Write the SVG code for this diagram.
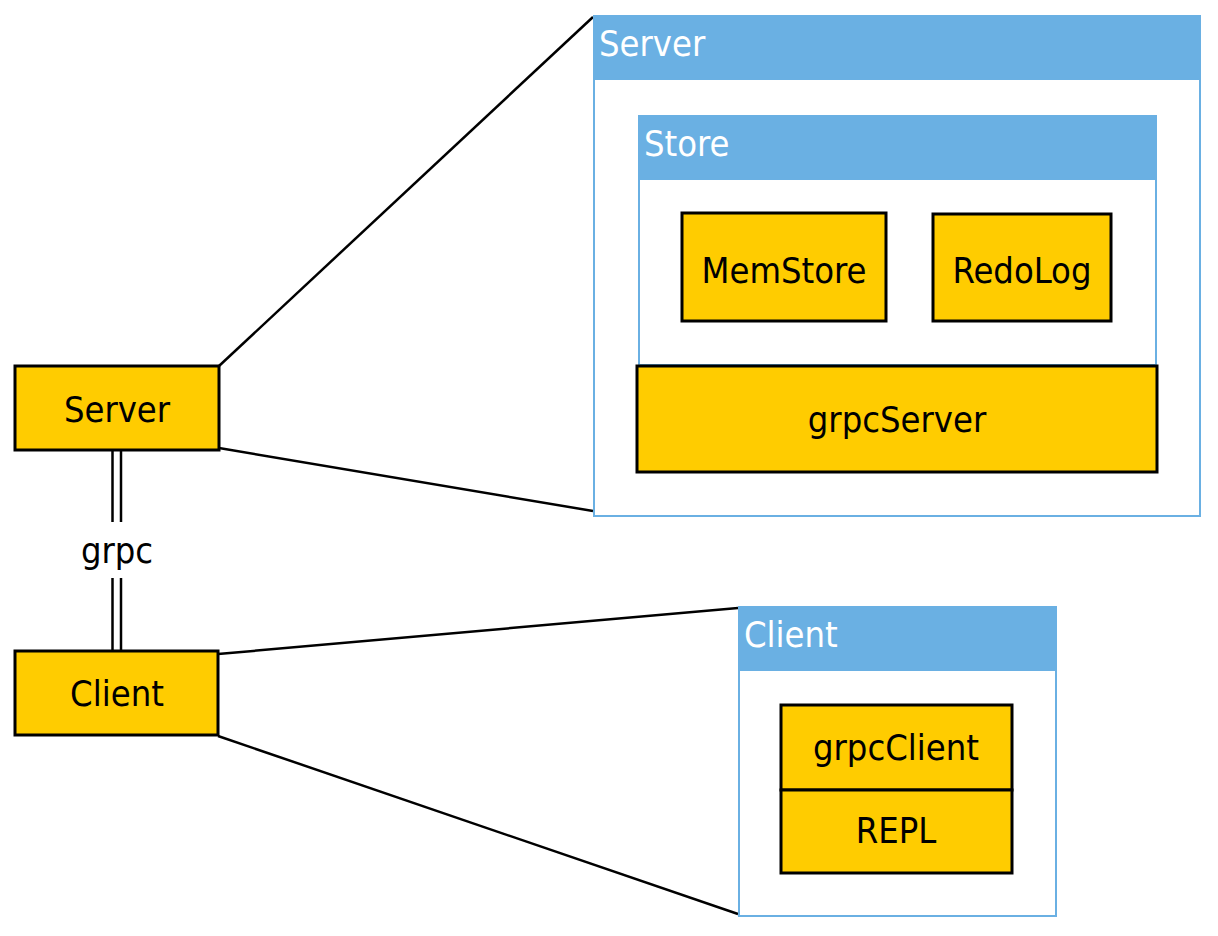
<svg xmlns="http://www.w3.org/2000/svg" width="1218" height="936" viewBox="0 0 1218 936">
<style>
.box{fill:#FFCC00;stroke:#000;stroke-width:3}
.cont{fill:#fff;stroke:#6AB0E3;stroke-width:2}
.hdr{fill:#6AB0E3}
.t{font-family:"DejaVu Sans Condensed","DejaVu Sans","Liberation Sans",sans-serif;font-size:36px;fill:#000;text-anchor:middle}
.h{font-family:"DejaVu Sans Condensed","DejaVu Sans","Liberation Sans",sans-serif;font-size:36px;fill:#fff}
.ln{stroke:#000;stroke-width:2.5;fill:none}
.dl{stroke:#000;stroke-width:2.5;fill:none}
</style>
<rect width="1218" height="936" fill="#fff"/>
<g id="connectors">
<line class="ln" x1="219" y1="366" x2="593" y2="17"/>
<line class="ln" x1="219" y1="448" x2="593" y2="511"/>
<line class="ln" x1="218" y1="654" x2="738" y2="608"/>
<line class="ln" x1="218" y1="736" x2="738" y2="914"/>
<line class="dl" x1="112.5" y1="450" x2="112.5" y2="522"/>
<line class="dl" x1="121" y1="450" x2="121" y2="522"/>
<line class="dl" x1="112.5" y1="578" x2="112.5" y2="651"/>
<line class="dl" x1="121" y1="578" x2="121" y2="651"/>
<text class="t" x="117" y="563">grpc</text>
</g>
<g id="server-container">
<rect class="cont" x="594" y="16" width="606" height="500"/>
<rect class="hdr" x="593" y="15" width="608" height="65"/>
<text class="h" x="599" y="56">Server</text>
</g>
<g id="store-container">
<rect class="cont" x="639" y="116" width="517" height="249"/>
<rect class="hdr" x="638" y="115" width="519" height="65"/>
<text class="h" x="644" y="156">Store</text>
</g>
<g id="memstore">
<rect class="box" x="682" y="213" width="204" height="108"/>
<text class="t" x="784" y="283">MemStore</text>
</g>
<g id="redolog">
<rect class="box" x="933" y="214" width="178" height="107"/>
<text class="t" x="1022" y="283">RedoLog</text>
</g>
<g id="grpcserver">
<rect class="box" x="637" y="366" width="520" height="106"/>
<text class="t" x="897" y="432">grpcServer</text>
</g>
<g id="server">
<rect class="box" x="15" y="366" width="204" height="84"/>
<text class="t" x="117" y="422">Server</text>
</g>
<g id="client">
<rect class="box" x="15" y="651" width="203" height="84"/>
<text class="t" x="117" y="706">Client</text>
</g>
<g id="client-container">
<rect class="cont" x="739" y="607" width="317" height="309"/>
<rect class="hdr" x="738" y="606" width="319" height="65"/>
<text class="h" x="744" y="647">Client</text>
</g>
<g id="grpcclient">
<rect class="box" x="781" y="705" width="231" height="85"/>
<text class="t" x="896" y="760">grpcClient</text>
</g>
<g id="repl">
<rect class="box" x="781" y="790" width="231" height="83"/>
<text class="t" x="896" y="843">REPL</text>
</g>
</svg>
